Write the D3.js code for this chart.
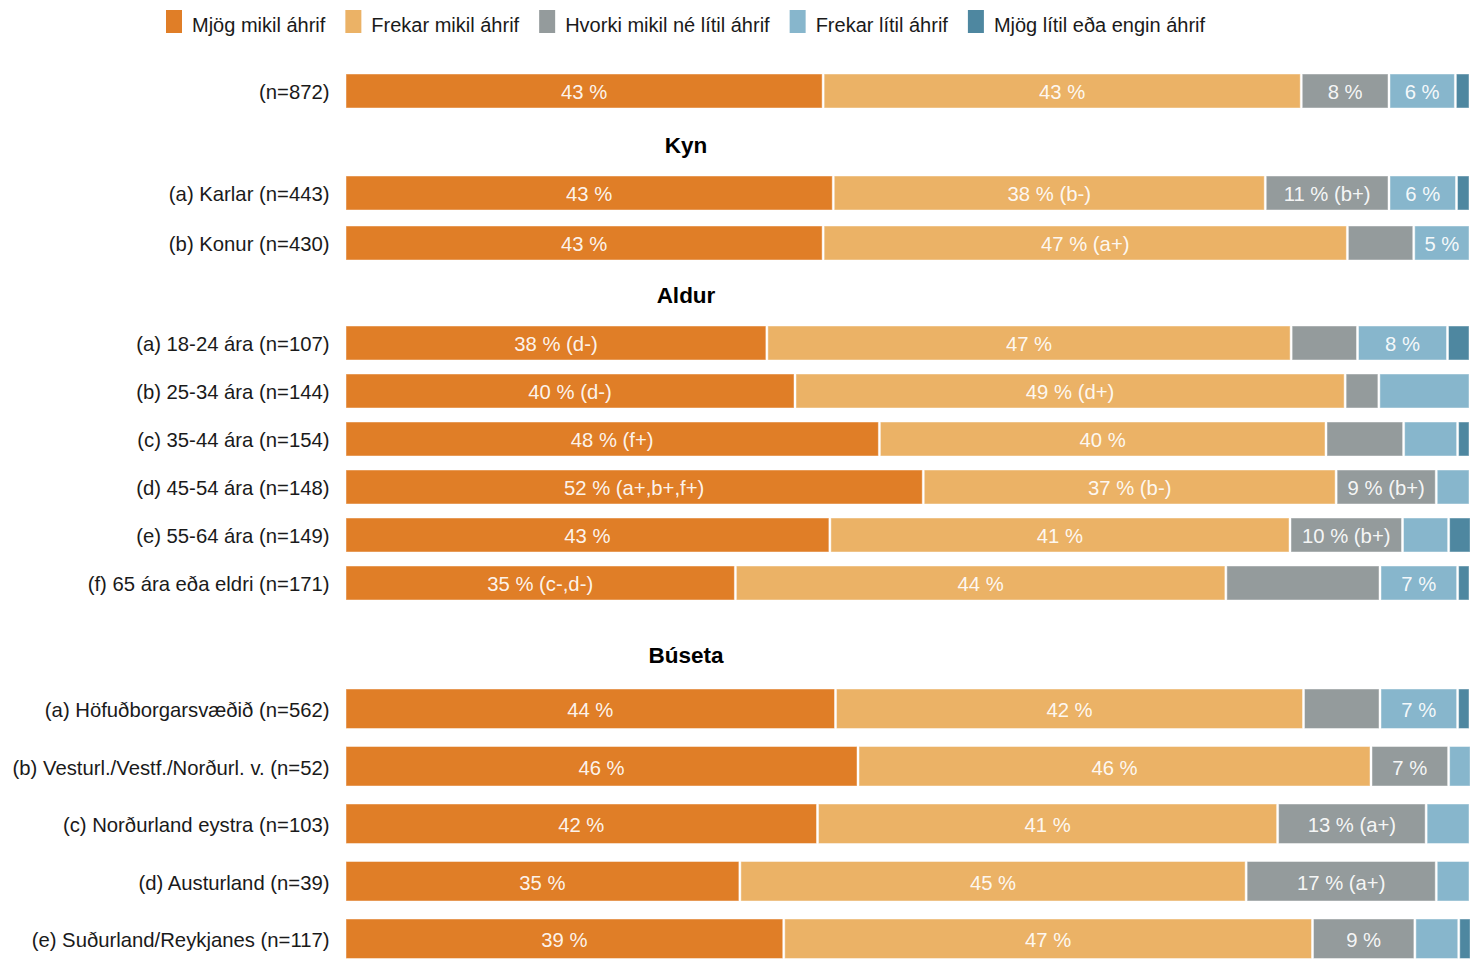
<!DOCTYPE html>
<html>
<head>
<meta charset="utf-8">
<script src="https://cdn.jsdelivr.net/npm/d3@7"></script>
<style>
  html, body { margin: 0; padding: 0; background: #ffffff; overflow: hidden; }
  svg { display: block; }
  text { font-family: "Liberation Sans", Arial, Helvetica, sans-serif; }
</style>
</head>
<body>
<svg id="chart" width="1470" height="959"></svg>
<script>
// ---------------- DATA ----------------
const seriesNames = ["Mjög mikil áhrif", "Frekar mikil áhrif", "Hvorki mikil né lítil áhrif", "Frekar lítil áhrif", "Mjög lítil eða engin áhrif"];
const seriesColors = ["#e07e27", "#ebb266", "#949b9c", "#87b6cc", "#4e87a0"];

const sections = ["", "Kyn", "Aldur", "Búseta"];
const categories = [
  "(n=872)",
  "(a) Karlar (n=443)", "(b) Konur (n=430)",
  "(a) 18-24 ára (n=107)", "(b) 25-34 ára (n=144)", "(c) 35-44 ára (n=154)",
  "(d) 45-54 ára (n=148)", "(e) 55-64 ára (n=149)", "(f) 65 ára eða eldri (n=171)",
  "(a) Höfuðborgarsvæðið (n=562)", "(b) Vesturl./Vestf./Norðurl. v. (n=52)",
  "(c) Norðurland eystra (n=103)", "(d) Austurland (n=39)", "(e) Suðurland/Reykjanes (n=117)"
];
const categorySection = [0, 1, 1, 2, 2, 2, 2, 2, 2, 3, 3, 3, 3, 3];

// series values (%)
const mjogMikil    = [42.5, 43.4, 42.5, 37.5, 40.0, 47.5, 51.4, 43.1, 34.7, 43.6, 45.6, 42.0, 35.1, 39.0];
const frekarMikil  = [42.5, 38.4, 46.6, 46.6, 48.9, 39.7, 36.7, 40.9, 43.6, 41.6, 45.6, 40.9, 45.0, 47.0];
const hvorki       = [ 7.8, 11.0,  5.9,  5.9,  3.0,  6.9,  8.9, 10.0, 13.7,  6.8,  6.9, 13.2, 16.9,  9.1];
const frekarLitil  = [ 5.9,  6.0,  5.0,  8.0,  8.1,  4.8,  3.0,  4.1,  6.9,  6.9,  2.0,  3.9,  3.0,  3.9];
const mjogLitil    = [ 1.3,  1.2,  0.0,  2.0,  0.0,  1.1,  0.0,  2.0,  1.1,  1.1,  0.0,  0.0,  0.0,  1.1];

// labels shown inside the segments ("" = no label)
const lblMjogMikil   = ["43 %", "43 %", "43 %", "38 % (d-)", "40 % (d-)", "48 % (f+)", "52 % (a+,b+,f+)", "43 %", "35 % (c-,d-)", "44 %", "46 %", "42 %", "35 %", "39 %"];
const lblFrekarMikil = ["43 %", "38 % (b-)", "47 % (a+)", "47 %", "49 % (d+)", "40 %", "37 % (b-)", "41 %", "44 %", "42 %", "46 %", "41 %", "45 %", "47 %"];
const lblHvorki      = ["8 %", "11 % (b+)", "", "", "", "", "9 % (b+)", "10 % (b+)", "", "", "7 %", "13 % (a+)", "17 % (a+)", "9 %"];
const lblFrekarLitil = ["6 %", "6 %", "5 %", "8 %", "", "", "", "", "7 %", "7 %", "", "", "", ""];
const lblMjogLitil   = ["", "", "", "", "", "", "", "", "", "", "", "", "", ""];

const seriesValues = [mjogMikil, frekarMikil, hvorki, frekarLitil, mjogLitil];
const seriesLabels = [lblMjogMikil, lblFrekarMikil, lblHvorki, lblFrekarLitil, lblMjogLitil];

// ---------------- LAYOUT ----------------
const svg = d3.select("#chart");
const x = d3.scaleLinear().domain([0, 100]).range([345, 1470]);
const FS = 20.3;

const sectionLayout = [
  { range: [66, 116],    pad: 0.32,  titleY: null },
  { range: [168, 268],   pad: 0.32,  titleY: 145 },
  { range: [319, 607],   pad: 0.292, titleY: 295 },
  { range: [680, 967.5], pad: 0.313, titleY: 655 }
];
const titleX = 686;

const yScales = sectionLayout.map((L, s) => {
  const cats = categories.filter((c, i) => categorySection[i] === s);
  return d3.scaleBand().domain(cats).range(L.range).paddingInner(L.pad).paddingOuter(L.pad / 2);
});

const rows = categories.map((c, i) => {
  const ys = yScales[categorySection[i]];
  let cum = 0;
  const segs = seriesValues.map((arr, k) => {
    const s = { k, x0: cum, x1: cum + arr[i], label: seriesLabels[k][i] };
    cum += arr[i];
    return s;
  });
  return { cat: c, y: ys(c), h: ys.bandwidth(), segs };
});

const rowG = svg.selectAll("g.row").data(rows).join("g").attr("class", "row")
  .attr("transform", d => `translate(0,${d.y})`);

rowG.selectAll("rect").data(d => d.segs.filter(s => s.x1 - s.x0 > 0).map(s => ({ ...s, h: d.h })))
  .join("rect")
  .attr("x", s => x(s.x0) + 1)
  .attr("width", s => Math.max(0, x(s.x1) - x(s.x0) - 2))
  .attr("y", 0)
  .attr("height", s => s.h)
  .attr("fill", s => seriesColors[s.k])
  .attr("stroke", "#ffffff")
  .attr("stroke-opacity", 0.45)
  .attr("stroke-width", 1);

rowG.selectAll("text.seg").data(d => d.segs.filter(s => s.label).map(s => ({ ...s, h: d.h })))
  .join("text").attr("class", "seg")
  .attr("x", s => (x(s.x0) + x(s.x1)) / 2)
  .attr("y", s => s.h / 2 + 1)
  .attr("dy", "0.36em")
  .attr("text-anchor", "middle")
  .attr("font-size", FS)
  .attr("fill", "#ffffff")
  .attr("fill-opacity", 0.93)
  .text(s => s.label);

rowG.append("text")
  .attr("x", 329.5)
  .attr("y", d => d.h / 2 + 1)
  .attr("dy", "0.36em")
  .attr("text-anchor", "end")
  .attr("font-size", FS)
  .attr("fill", "#1a1a1a")
  .text(d => d.cat);

svg.selectAll("text.title")
  .data(sections.map((t, s) => ({ t, y: sectionLayout[s].titleY })).filter(d => d.t))
  .join("text").attr("class", "title")
  .attr("x", titleX)
  .attr("y", d => d.y)
  .attr("dy", "0.36em")
  .attr("text-anchor", "middle")
  .attr("font-size", 22.5)
  .attr("font-weight", "bold")
  .attr("fill", "#000000")
  .text(d => d.t);

// legend
const legend = svg.append("g").attr("transform", "translate(166,0)");
let lx = 0;
seriesNames.forEach((name, k) => {
  const g = legend.append("g").attr("transform", `translate(${lx},0)`);
  g.append("rect").attr("x", 0).attr("y", 10).attr("width", 16).attr("height", 23)
    .attr("fill", seriesColors[k]);
  const t = g.append("text").attr("x", 26).attr("y", 25).attr("dy", "0.36em")
    .attr("font-size", 20).attr("fill", "#1a1a1a").text(name);
  lx += 26 + t.node().getComputedTextLength() + 20;
});
</script>
</body>
</html>
